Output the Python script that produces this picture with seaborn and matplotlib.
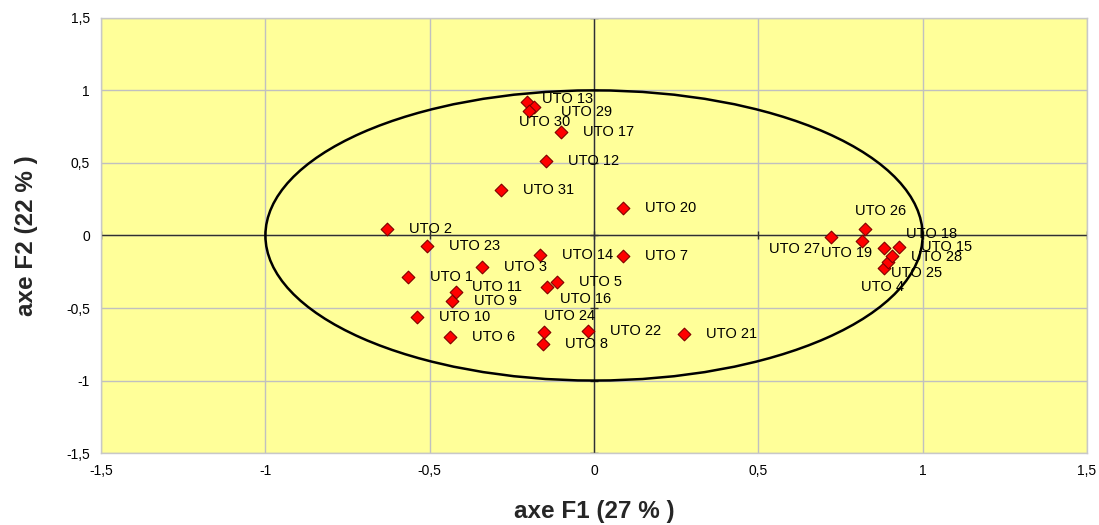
import numpy as np
import pandas as pd
import matplotlib
matplotlib.use("Agg")
import matplotlib.pyplot as plt
from matplotlib.patches import Ellipse
import seaborn as sns

# UTO coordinates on the first two factorial axes
labels = ["UTO 1", "UTO 2", "UTO 3", "UTO 4", "UTO 5", "UTO 6", "UTO 7", "UTO 8",
          "UTO 9", "UTO 10", "UTO 11", "UTO 12", "UTO 13", "UTO 14", "UTO 15", "UTO 16",
          "UTO 17", "UTO 18", "UTO 19", "UTO 20", "UTO 21", "UTO 22", "UTO 23", "UTO 24",
          "UTO 25", "UTO 26", "UTO 27", "UTO 28", "UTO 29", "UTO 30", "UTO 31"]
f1 = [-0.565, -0.629, -0.340, 0.882, -0.113, -0.438, 0.089, -0.155,
      -0.432, -0.538, -0.420, -0.147, -0.205, -0.164, 0.929, -0.144,
      -0.100, 0.883, 0.815, 0.089, 0.275, -0.019, -0.509, -0.151,
      0.894, 0.825, 0.721, 0.907, -0.183, -0.197, -0.282]
f2 = [-0.284, 0.043, -0.219, -0.224, -0.319, -0.702, -0.141, -0.750,
      -0.450, -0.560, -0.390, 0.516, 0.923, -0.137, -0.081, -0.357,
      0.716, -0.088, -0.038, 0.192, -0.677, -0.661, -0.072, -0.668,
      -0.183, 0.045, -0.008, -0.139, 0.884, 0.861, 0.314]

ticks = [-1.5, -1, -0.5, 0, 0.5, 1, 1.5]
tick_labels = ["-1,5", "-1", "-0,5", "0", "0,5", "1", "1,5"]

# label offsets in pixels (dx, dy up) where labels were moved by hand
label_offsets = {
    "UTO 13": (15, 3), "UTO 29": (27, -5), "UTO 30": (-10, -11),
    "UTO 26": (-10, 18), "UTO 27": (-62, -12), "UTO 19": (-41, -12),
    "UTO 18": (22, 14), "UTO 28": (19, -1), "UTO 25": (3, -11),
    "UTO 4": (-23, -19), "UTO 11": (16, 5), "UTO 16": (13, -12),
    "UTO 24": (0, 16), "UTO 8": (22, 0), "UTO 22": (22, 0),
}

df = pd.DataFrame({"label": labels, "F1": f1, "F2": f2})

sns.set_theme(style="white")
plt.rcParams["font.family"] = ["Liberation Sans", "DejaVu Sans"]

fig = plt.figure(figsize=(10.99, 5.25), dpi=100)
ax = fig.add_axes([0.092, 0.137, 0.897, 0.829])
ax.set_facecolor("#FFFF99")

ax.set_xlim(-1.5, 1.5)
ax.set_ylim(-1.5, 1.5)
ax.set_xticks(ticks)
ax.set_xticklabels(tick_labels)
ax.set_yticks(ticks)
ax.set_yticklabels(tick_labels)
ax.tick_params(axis="both", labelsize=10, colors="#000000", length=0, pad=8)
ax.grid(True, color="#C0C0C0", linewidth=1)
ax.set_axisbelow(True)
for sp in ax.spines.values():
    sp.set_color("#C8C8C8")
    sp.set_linewidth(1)

# zero axes with crossing tick marks
ax.axhline(0, color="#303030", linewidth=1, zorder=2)
ax.axvline(0, color="#303030", linewidth=1, zorder=2)
tk = np.array(ticks)
ax.scatter(tk, np.zeros_like(tk), marker="|", s=40, color="#303030", linewidths=1, zorder=2)
ax.scatter(np.zeros_like(tk), tk, marker="_", s=40, color="#303030", linewidths=1, zorder=2)

# correlation circle
ax.add_patch(Ellipse((0, 0), 2, 2, fill=False, edgecolor="#000000", linewidth=1.8, zorder=3))

sns.scatterplot(data=df, x="F1", y="F2", marker="D", s=42, color="#FF0000",
                edgecolor="#800000", linewidth=0.8, zorder=4, ax=ax, legend=False)

for _, row in df.iterrows():
    dx, dy = label_offsets.get(row["label"], (22, 0))
    ax.annotate(row["label"], (row["F1"], row["F2"]), xytext=(dx * 0.72, dy * 0.72),
                textcoords="offset points", ha="left", va="center",
                fontsize=10.5, color="#000000", zorder=5)

ax.set_xlabel("axe F1 (27 % )", fontsize=17.5, fontweight="bold", labelpad=16)
ax.set_ylabel("axe F2 (22 % )", fontsize=17.5, fontweight="bold", labelpad=20)

fig.savefig("out.png", dpi=100)
